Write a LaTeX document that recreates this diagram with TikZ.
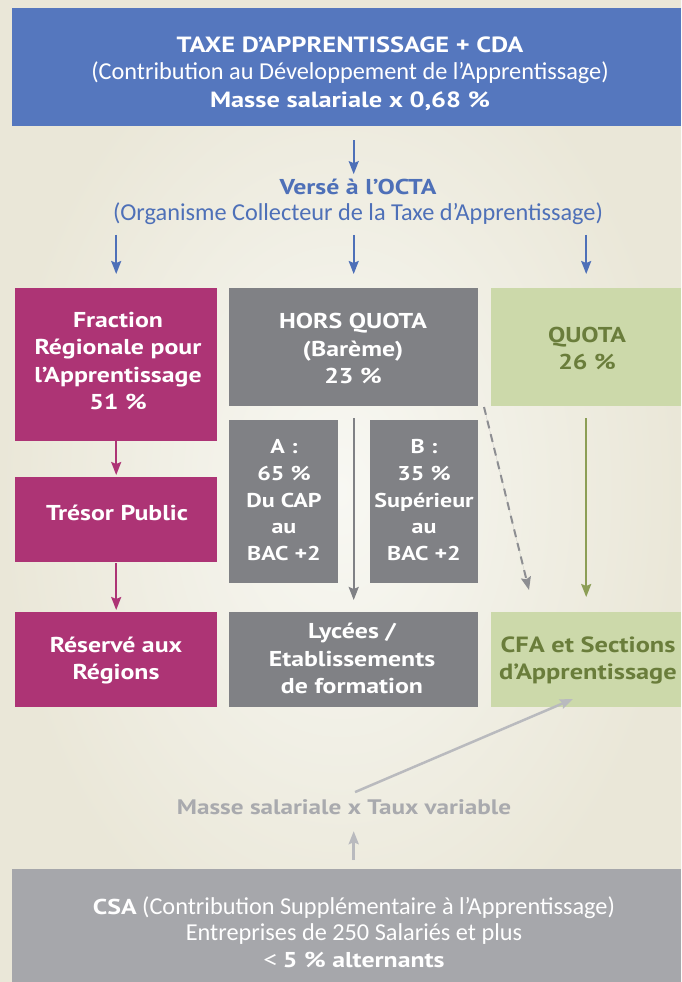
\documentclass[tikz,border=0pt]{standalone}
\usepackage{fontspec}
\setmainfont{PT Sans}[FakeStretch=1.2]
\newfontfamily\lt{Carlito}
\usetikzlibrary{arrows.meta}
\definecolor{bluebox}{HTML}{5577BE}
\definecolor{bluetxt}{HTML}{4E70B8}
\definecolor{mag}{HTML}{AD3475}
\definecolor{dgray}{HTML}{808185}
\definecolor{lgreen}{HTML}{CCD9AA}
\definecolor{gtext}{HTML}{6A7D3B}
\definecolor{garrow}{HTML}{8C9E55}
\definecolor{csagray}{HTML}{A6A7AB}
\definecolor{ltgray}{HTML}{A9AAAE}
\definecolor{ltarrow}{HTML}{B9BABE}
\definecolor{dasharr}{HTML}{8D8E92}
\definecolor{bgin}{HTML}{F8F8F3}
\definecolor{bgout}{HTML}{EAE7D8}
\begin{document}
\begin{tikzpicture}[x=1pt,y=-1pt,
  boxshape/.style={inner sep=0pt, anchor=north west},
  txt/.style={inner sep=0pt, align=center, text=white, yshift=-3.5pt,
    font=\bfseries\fontsize{21.5}{27.5}\selectfont,
    execute at begin node=\strut, execute at end node=\strut},
  head/.style={-{Stealth[length=13pt,width=10pt,inset=2pt]}},
  barrow/.style={head, draw=bluetxt, fill=bluetxt, line width=2pt},
  marrow/.style={head, draw=mag, fill=mag, line width=2pt},
  garr/.style={head, draw=dgray, fill=dgray, line width=2.2pt},
  grarrow/.style={head, draw=garrow, fill=garrow, line width=2pt},
  dasharrow/.style={head, draw=dasharr, fill=dasharr, line width=2pt, dash pattern=on 8pt off 6pt},
  larrow/.style={head, draw=ltarrow, fill=ltarrow, line width=2.5pt}
]
\useasboundingbox (0,0) rectangle (681,982);
\shade[inner color=bgin, outer color=bgout] (0,0) rectangle (681,982);

% boxes
\node[boxshape, fill=bluebox, minimum width=669, minimum height=118] (top) at (12,8) {};
\node[boxshape, fill=mag, minimum width=202, minimum height=153] (frac) at (15,288) {};
\node[boxshape, fill=dgray, minimum width=249, minimum height=118] (hors) at (229,288) {};
\node[boxshape, fill=lgreen, minimum width=190, minimum height=118] (quota) at (491,288) {};
\node[boxshape, fill=mag, minimum width=202, minimum height=85] (tresor) at (15,477) {};
\node[boxshape, fill=dgray, minimum width=109, minimum height=163] (boxa) at (229,420) {};
\node[boxshape, fill=dgray, minimum width=108, minimum height=163] (boxb) at (370,420) {};
\node[boxshape, fill=mag, minimum width=202, minimum height=95] (reserve) at (15,612) {};
\node[boxshape, fill=dgray, minimum width=249, minimum height=95] (lycees) at (229,612) {};
\node[boxshape, fill=lgreen, minimum width=190, minimum height=95] (cfa) at (491,612) {};
\node[boxshape, fill=csagray, minimum width=669, minimum height=113] (csa) at (12,869) {};

% texts
\node[txt, font=\bfseries\fontsize{22}{27.5}\selectfont] (topT) at (350,72.5)
  {TAXE D’APPRENTISSAGE + CDA\\
   {\lt\mdseries\fontsize{24.3}{27.5}\selectfont (Contribution au Développement de l’Apprentissage)}\\
   Masse salariale x 0,68 \%};
\node[txt, text=bluetxt, font=\bfseries\fontsize{21.5}{26}\selectfont] (octaT) at (358,200)
  {Versé à l’OCTA\\
   {\lt\mdseries\fontsize{24.3}{26}\selectfont (Organisme Collecteur de la Taxe d’Apprentissage)}};
\node[txt] (fracT) at (118,361.5) {Fraction\\Régionale pour\\l’Apprentissage\\51 \%};
\node[txt] (horsT) at (353,349) {HORS QUOTA\\(Barème)\\23 \%};
\node[txt, text=gtext] (quotaT) at (587,349) {QUOTA\\26 \%};
\node[txt] (tresorT) at (117,511) {Trésor Public};
\node[txt, font=\bfseries\fontsize{20}{26.75}\selectfont] (boxaT) at (284,500.5)
  {A :\\65 \%\\Du CAP\\au\\BAC +2};
\node[txt, font=\bfseries\fontsize{20}{26.75}\selectfont] (boxbT) at (424,500.5)
  {B :\\35 \%\\Supérieur\\au\\BAC +2};
\node[txt] (reserveT) at (116,659) {Réservé aux\\Régions};
\node[txt] (lyceesT) at (352,659) {Lycées /\\Etablissements\\de formation};
\node[txt, text=gtext, font=\bfseries\fontsize{22}{27.5}\selectfont] (cfaT) at (588,659)
  {CFA et Sections\\d’Apprentissage};
\node[txt, text=ltgray, font=\bfseries\fontsize{21}{25}\selectfont] (masse) at (344,806)
  {Masse salariale x Taux variable};
\node[txt, font=\lt\fontsize{24.3}{26.5}\selectfont] (csaT) at (354,932.5)
  {{\rmfamily\bfseries\fontsize{21.5}{26.5}\selectfont CSA} (Contribution Supplémentaire à l’Apprentissage)\\
   Entreprises de 250 Salariés et plus\\
   {\rmfamily\mdseries\fontsize{23}{26.5}\selectfont <} {\rmfamily\bfseries\fontsize{21.5}{26.5}\selectfont 5 \% alternants}};

% arrows
\draw[barrow, shorten <=14pt, shorten >=4.5pt] (top.south -| hors.north) -- (octaT.north -| hors.north);
\draw[barrow, shorten <=6.5pt, shorten >=14pt] (octaT.south -| frac.north) -- (frac.north);
\draw[barrow, shorten <=6.5pt, shorten >=14pt] (octaT.south -| hors.north) -- (hors.north);
\draw[barrow, shorten <=6.5pt, shorten >=14pt] (octaT.south -| quota.north) -- (quota.north);

\draw[marrow, shorten >=2pt] (frac.south) -- (tresor.north);
\draw[marrow, shorten <=1pt, shorten >=2pt] (tresor.south) -- (reserve.north);

\draw[garr, shorten <=12pt, shorten >=12pt] (hors.south) -- (lycees.north);
\draw[grarrow, shorten <=12pt, shorten >=15pt] (quota.south) -- (cfa.north);

\coordinate (dstart) at (484,407);
\coordinate (dend) at (529,590);
\draw[dasharrow] (dstart) -- (dend);

\coordinate (cfatip) at (573,699);
\draw[larrow, shorten <=12pt] (masse.north) -- (cfatip);
\draw[larrow, shorten <=9pt, shorten >=9pt] (csa.north -| lycees.north) -- (masse.south -| lycees.north);
\end{tikzpicture}
\end{document}
